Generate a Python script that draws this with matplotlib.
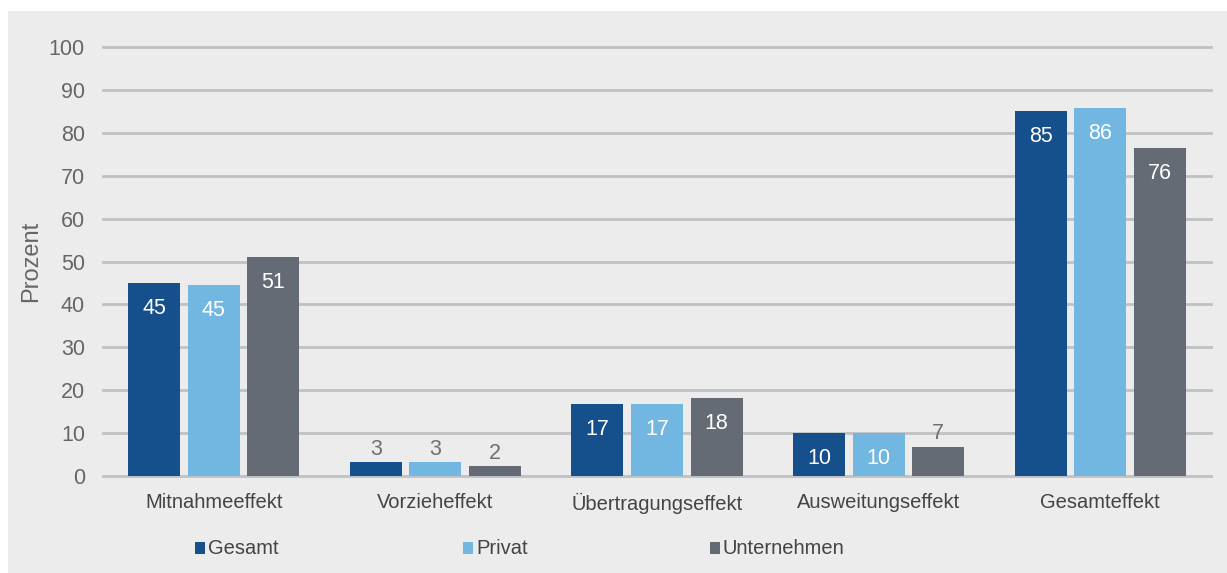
import matplotlib.pyplot as plt
from matplotlib.patches import Rectangle
import numpy as np

kategorien = ['Mitnahmeeffekt', 'Vorzieheffekt', 'Übertragungseffekt', 'Ausweitungseffekt', 'Gesamteffekt']
gesamt = [45.0, 3.2, 16.8, 10.1, 85.1]
privat = [44.5, 3.2, 16.8, 10.1, 85.8]
unternehmen = [51.0, 2.3, 18.2, 6.8, 76.4]
labels_gesamt = ['45', '3', '17', '10', '85']
labels_privat = ['45', '3', '17', '10', '86']
labels_unternehmen = ['51', '2', '18', '7', '76']
serien = ['Gesamt', 'Privat', 'Unternehmen']
farben = ['#154F8C', '#72B7E1', '#656B75']

plt.rcParams['font.family'] = ['Liberation Sans', 'DejaVu Sans']

fig = plt.figure(figsize=(12.27, 5.73), dpi=100, facecolor='white')
fig.patches.append(Rectangle((8 / 1227, 0), 1 - 8 / 1227, 1 - 11 / 573,
                             transform=fig.transFigure, facecolor='#ECECEC',
                             edgecolor='none', zorder=-10))
ax = fig.add_axes([103 / 1227, 1 - 476 / 573, (1211 - 103) / 1227, (476 - 47) / 573])
ax.set_facecolor('none')

x = np.arange(len(kategorien))
breite = 0.235
abstand = 0.269
daten = [gesamt, privat, unternehmen]
beschriftungen = [labels_gesamt, labels_privat, labels_unternehmen]

for i in range(3):
    pos = x + (i - 1) * abstand
    ax.bar(pos, daten[i], width=breite, color=farben[i], zorder=3)
    for xp, val, txt in zip(pos, daten[i], beschriftungen[i]):
        if val > 9:
            ax.text(xp, val - 6, txt, ha='center', va='center', color='white', fontsize=15.5, zorder=4)
        else:
            ax.text(xp, val + 0.6, txt, ha='center', va='bottom', color='#707070', fontsize=15.5, zorder=4)

ax.set_xlim(-0.5, 4.5)
ax.set_ylim(0, 100)
ax.set_yticks(range(0, 101, 10))
ax.yaxis.grid(True, color='#BEC2C5', linewidth=2)
for gl in ax.yaxis.get_gridlines():
    gl.set_clip_on(False)
ax.set_axisbelow(True)
for s in ax.spines.values():
    s.set_visible(False)
ax.tick_params(axis='y', length=0, pad=13, labelsize=15.5, labelcolor='#666666')
ax.tick_params(axis='x', length=0, pad=12, labelsize=14.5, labelcolor='#444444')
ax.set_xticks(x)
ax.set_xticklabels(kategorien)
ax.set_ylabel('Prozent', fontsize=17, color='#666666', labelpad=5)

# Legende
leg_x = [195, 463, 710]
for lx, name, farbe in zip(leg_x, serien, farben):
    fig.patches.append(Rectangle((lx / 1227, 1 - 554 / 573), 10 / 1227, 12 / 573,
                                 transform=fig.transFigure, facecolor=farbe, edgecolor='none'))
    fig.text((lx + 13) / 1227, 1 - 548 / 573, name, fontsize=14.5, color='#444444',
             va='center', ha='left')

fig.savefig('out.png', dpi=100, facecolor='white')
